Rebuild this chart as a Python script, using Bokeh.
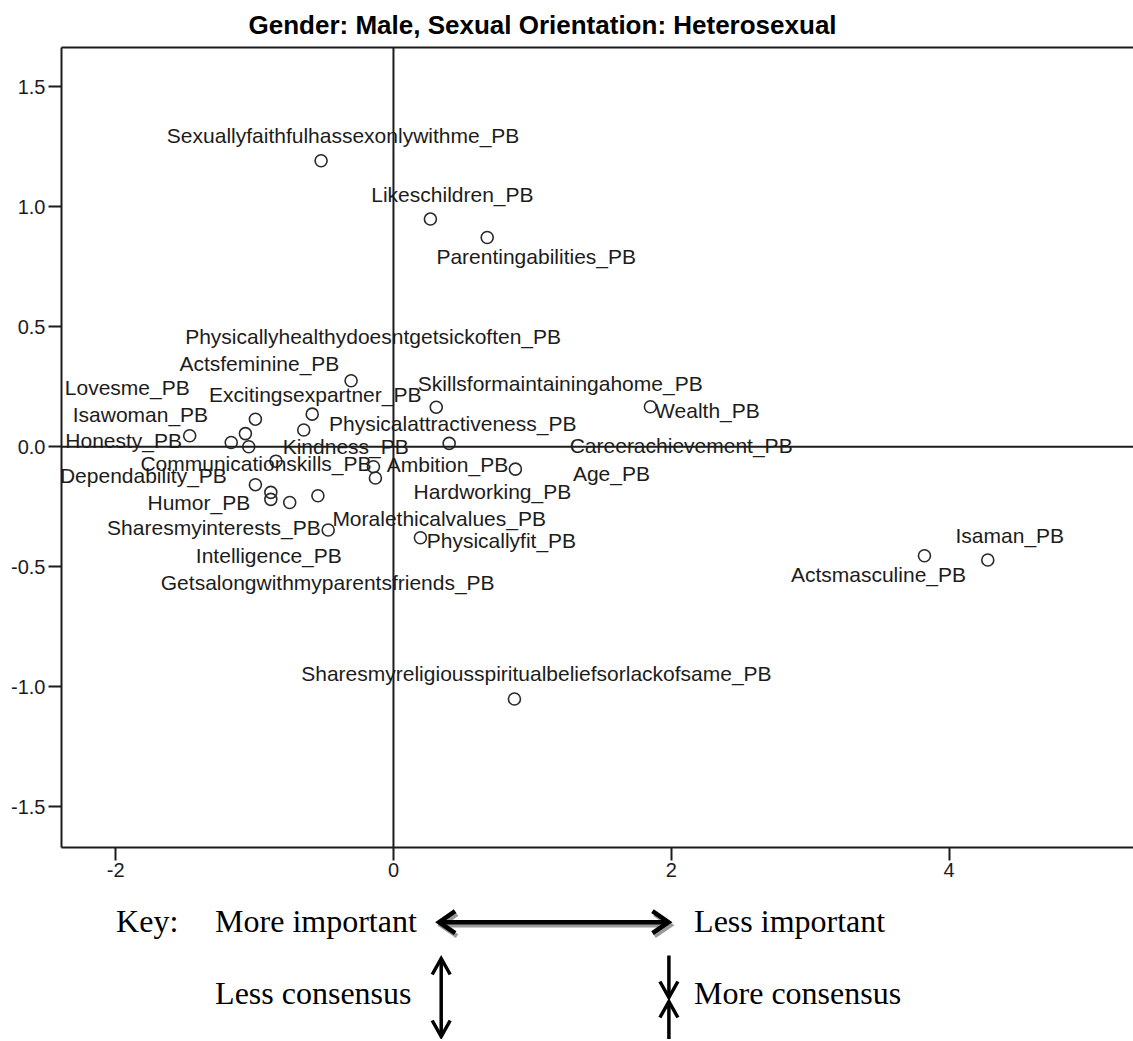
from bokeh.plotting import figure
from bokeh.models import Range1d, LinearAxis, FixedTicker, Span, ColumnDataSource, PrintfTickFormatter
from bokeh.layouts import column
from bokeh.embed import file_html
from bokeh.resources import INLINE
from bokeh.core.properties import value

TITLE = "Gender: Male, Sexual Orientation: Heterosexual"

names = [
    "Sexuallyfaithfulhassexonlywithme_PB", "Likeschildren_PB", "Parentingabilities_PB",
    "Physicallyhealthydoesntgetsickoften_PB", "Excitingsexpartner_PB", "Physicalattractiveness_PB",
    "Isawoman_PB", "Actsfeminine_PB", "Honesty_PB", "Lovesme_PB", "Kindness_PB",
    "Communicationskills_PB", "Dependability_PB", "Humor_PB", "Intelligence_PB",
    "Getsalongwithmyparentsfriends_PB", "Sharesmyinterests_PB", "Moralethicalvalues_PB",
    "Ambition_PB", "Hardworking_PB", "Skillsformaintainingahome_PB", "Wealth_PB",
    "Careerachievement_PB", "Age_PB", "Physicallyfit_PB", "Actsmasculine_PB", "Isaman_PB",
    "Sharesmyreligiousspiritualbeliefsorlackofsame_PB",
]
dim1 = [-0.521, 0.266, 0.675, -0.305, -0.585, -0.646, -0.994, -1.066, -1.467, -1.168, -1.042,
        -0.846, -0.994, -0.883, -0.883, -0.747, -0.544, -0.470, -0.144, -0.130, 0.308, 1.850,
        0.401, 0.878, 0.194, 3.823, 4.279, 0.871]
dim2 = [1.192, 0.949, 0.872, 0.275, 0.136, 0.070, 0.115, 0.055, 0.046, 0.018, 0.000,
        -0.060, -0.158, -0.190, -0.219, -0.232, -0.204, -0.347, -0.083, -0.130, 0.165, 0.167,
        0.014, -0.093, -0.379, -0.454, -0.472, -1.051]

# label placement (pixel offsets of label centre/baseline from its point)
label_dx = [22, 22, 49, 22, 3, 149, -115, 14, -66, -104, 97, -20, -112, -72, -2, 38, -104, 111,
            74, 117, 124, 57, 232, 96, 81, -46, 22, 22]
label_dy = [-25, -25, 19, -44, -20, -6, -5, -70, 5, -55, 0, 2, -9, 10, 56, 80, 32, -12,
            -2, 14, -24, 4, 2, 4, 3, 19, -25, -25]

X_TICKS = [-2, 0, 2, 4]
Y_TICKS = [-1.5, -1.0, -0.5, 0.0, 0.5, 1.0, 1.5]

KEY_LEFT = ["Key:", "More important", "Less consensus"]
KEY_RIGHT = ["Less important", "More consensus"]

SANS = value("Liberation Sans")
SERIF = value("Liberation Serif")
INK = "#1c1c1c"

W = 1133
BL = 61

p = figure(width=W, height=890, x_range=Range1d(-2.390, 5.328), y_range=Range1d(-1.670, 1.664),
           output_backend="svg", toolbar_location=None,
           min_border_left=BL, min_border_right=0, min_border_top=47, min_border_bottom=43)
p.outline_line_color = None
p.outline_line_alpha = 0
p.grid.visible = False

p.title.text = TITLE
p.title.text_font = "Liberation Sans"
p.title.text_font_size = "26px"
p.title.text_font_style = "bold"
p.title.text_color = "black"
p.title.align = "left"
p.title.offset = 187
p.title.standoff = 15

for ax in (p.xaxis[0], p.yaxis[0]):
    ax.axis_line_width = 2
    ax.axis_line_color = INK
    ax.major_tick_line_width = 2
    ax.major_tick_line_color = INK
    ax.major_tick_out = 13
    ax.major_tick_in = 0
    ax.minor_tick_line_color = None
    ax.major_label_text_font = "Liberation Sans"
    ax.major_label_text_font_size = "20px"
    ax.major_label_text_color = INK
p.xaxis.ticker = FixedTicker(ticks=X_TICKS)
p.yaxis.ticker = FixedTicker(ticks=Y_TICKS)
p.xaxis.formatter = PrintfTickFormatter(format="%d")
p.yaxis.formatter = PrintfTickFormatter(format="%.1f")
p.xaxis.major_label_standoff = 2
p.yaxis.major_label_standoff = 3

top = LinearAxis(ticker=FixedTicker(ticks=[]), axis_line_width=2, axis_line_color=INK,
                 major_tick_out=0, major_tick_in=0, minor_tick_out=0, minor_tick_in=0,
                 major_label_standoff=0, major_label_text_font_size="0px")
p.add_layout(top, "above")

p.add_layout(Span(location=0, dimension="height", line_color=INK, line_width=2))
p.add_layout(Span(location=0, dimension="width", line_color=INK, line_width=2))

src = ColumnDataSource(dict(x=dim1, y=dim2, name=names, dx=label_dx, dy=label_dy))
p.scatter("x", "y", source=src, size=12, fill_color=None, line_color="#2a2a2a", line_width=1.6)
p.text("x", "y", text="name", x_offset="dx", y_offset="dy", source=src,
       text_font=SANS, text_font_size="21px", text_color=INK,
       text_align="center", text_baseline="alphabetic")

# ---- key panel (page-pixel coordinates, y downwards) ----
k = figure(width=W, height=149, x_range=Range1d(BL, W), y_range=Range1d(1039, 890),
           output_backend="svg", toolbar_location=None,
           min_border_left=BL, min_border_right=0, min_border_top=0, min_border_bottom=0,
           x_axis_location=None, y_axis_location=None)
k.outline_line_color = None
k.grid.visible = False

k.text(x=[115.6, 214.6, 214.6], y=[920, 920, 992], text=KEY_LEFT,
       text_font=SERIF, text_font_size="32px", text_color="black",
       text_align="left", text_baseline="alphabetic")
k.text(x=[693.6, 693.6], y=[920, 992], text=KEY_RIGHT,
       text_font=SERIF, text_font_size="32px", text_color="black",
       text_align="left", text_baseline="alphabetic")


def harrow(x0, x1, y, ln=16, hw=11):
    xs = [[x0, x1], [x0 + ln, x0, x0 + ln], [x1 - ln, x1, x1 - ln]]
    ys = [[y, y], [y - hw, y, y + hw], [y - hw, y, y + hw]]
    return xs, ys


def vhead(x, tip, direction, ln=16, hw=9):
    # direction +1: pointing down, -1: pointing up
    return [x - hw, x, x + hw], [tip - direction * ln, tip, tip - direction * ln]


# horizontal double arrow with grey shadow
sx, sy = harrow(440.6, 670.0, 924.7)
k.multi_line(sx, sy, line_color="#9a9a9a", line_width=4.5, line_join="miter")
hx, hy = harrow(438.6, 668.0, 921.7)
k.multi_line(hx, hy, line_color="black", line_width=4.5, line_join="miter")

# less consensus: outward pointing double arrow
vx, vy = [], []
vx.append([440.7, 440.7]); vy.append([958, 1036])
a, b = vhead(440.7, 958, -1); vx.append(a); vy.append(b)
a, b = vhead(440.7, 1036, 1); vx.append(a); vy.append(b)
# more consensus: two arrows pointing at each other
vx.append([668.4, 668.4]); vy.append([955, 997])
a, b = vhead(668.4, 997, 1); vx.append(a); vy.append(b)
vx.append([668.4, 668.4]); vy.append([1001, 1039])
a, b = vhead(668.4, 1001, -1); vx.append(a); vy.append(b)
k.multi_line(vx, vy, line_color="black", line_width=3.5, line_join="miter")

layout = column(p, k, spacing=0)
open("out.html", "w").write(file_html(layout, INLINE))
